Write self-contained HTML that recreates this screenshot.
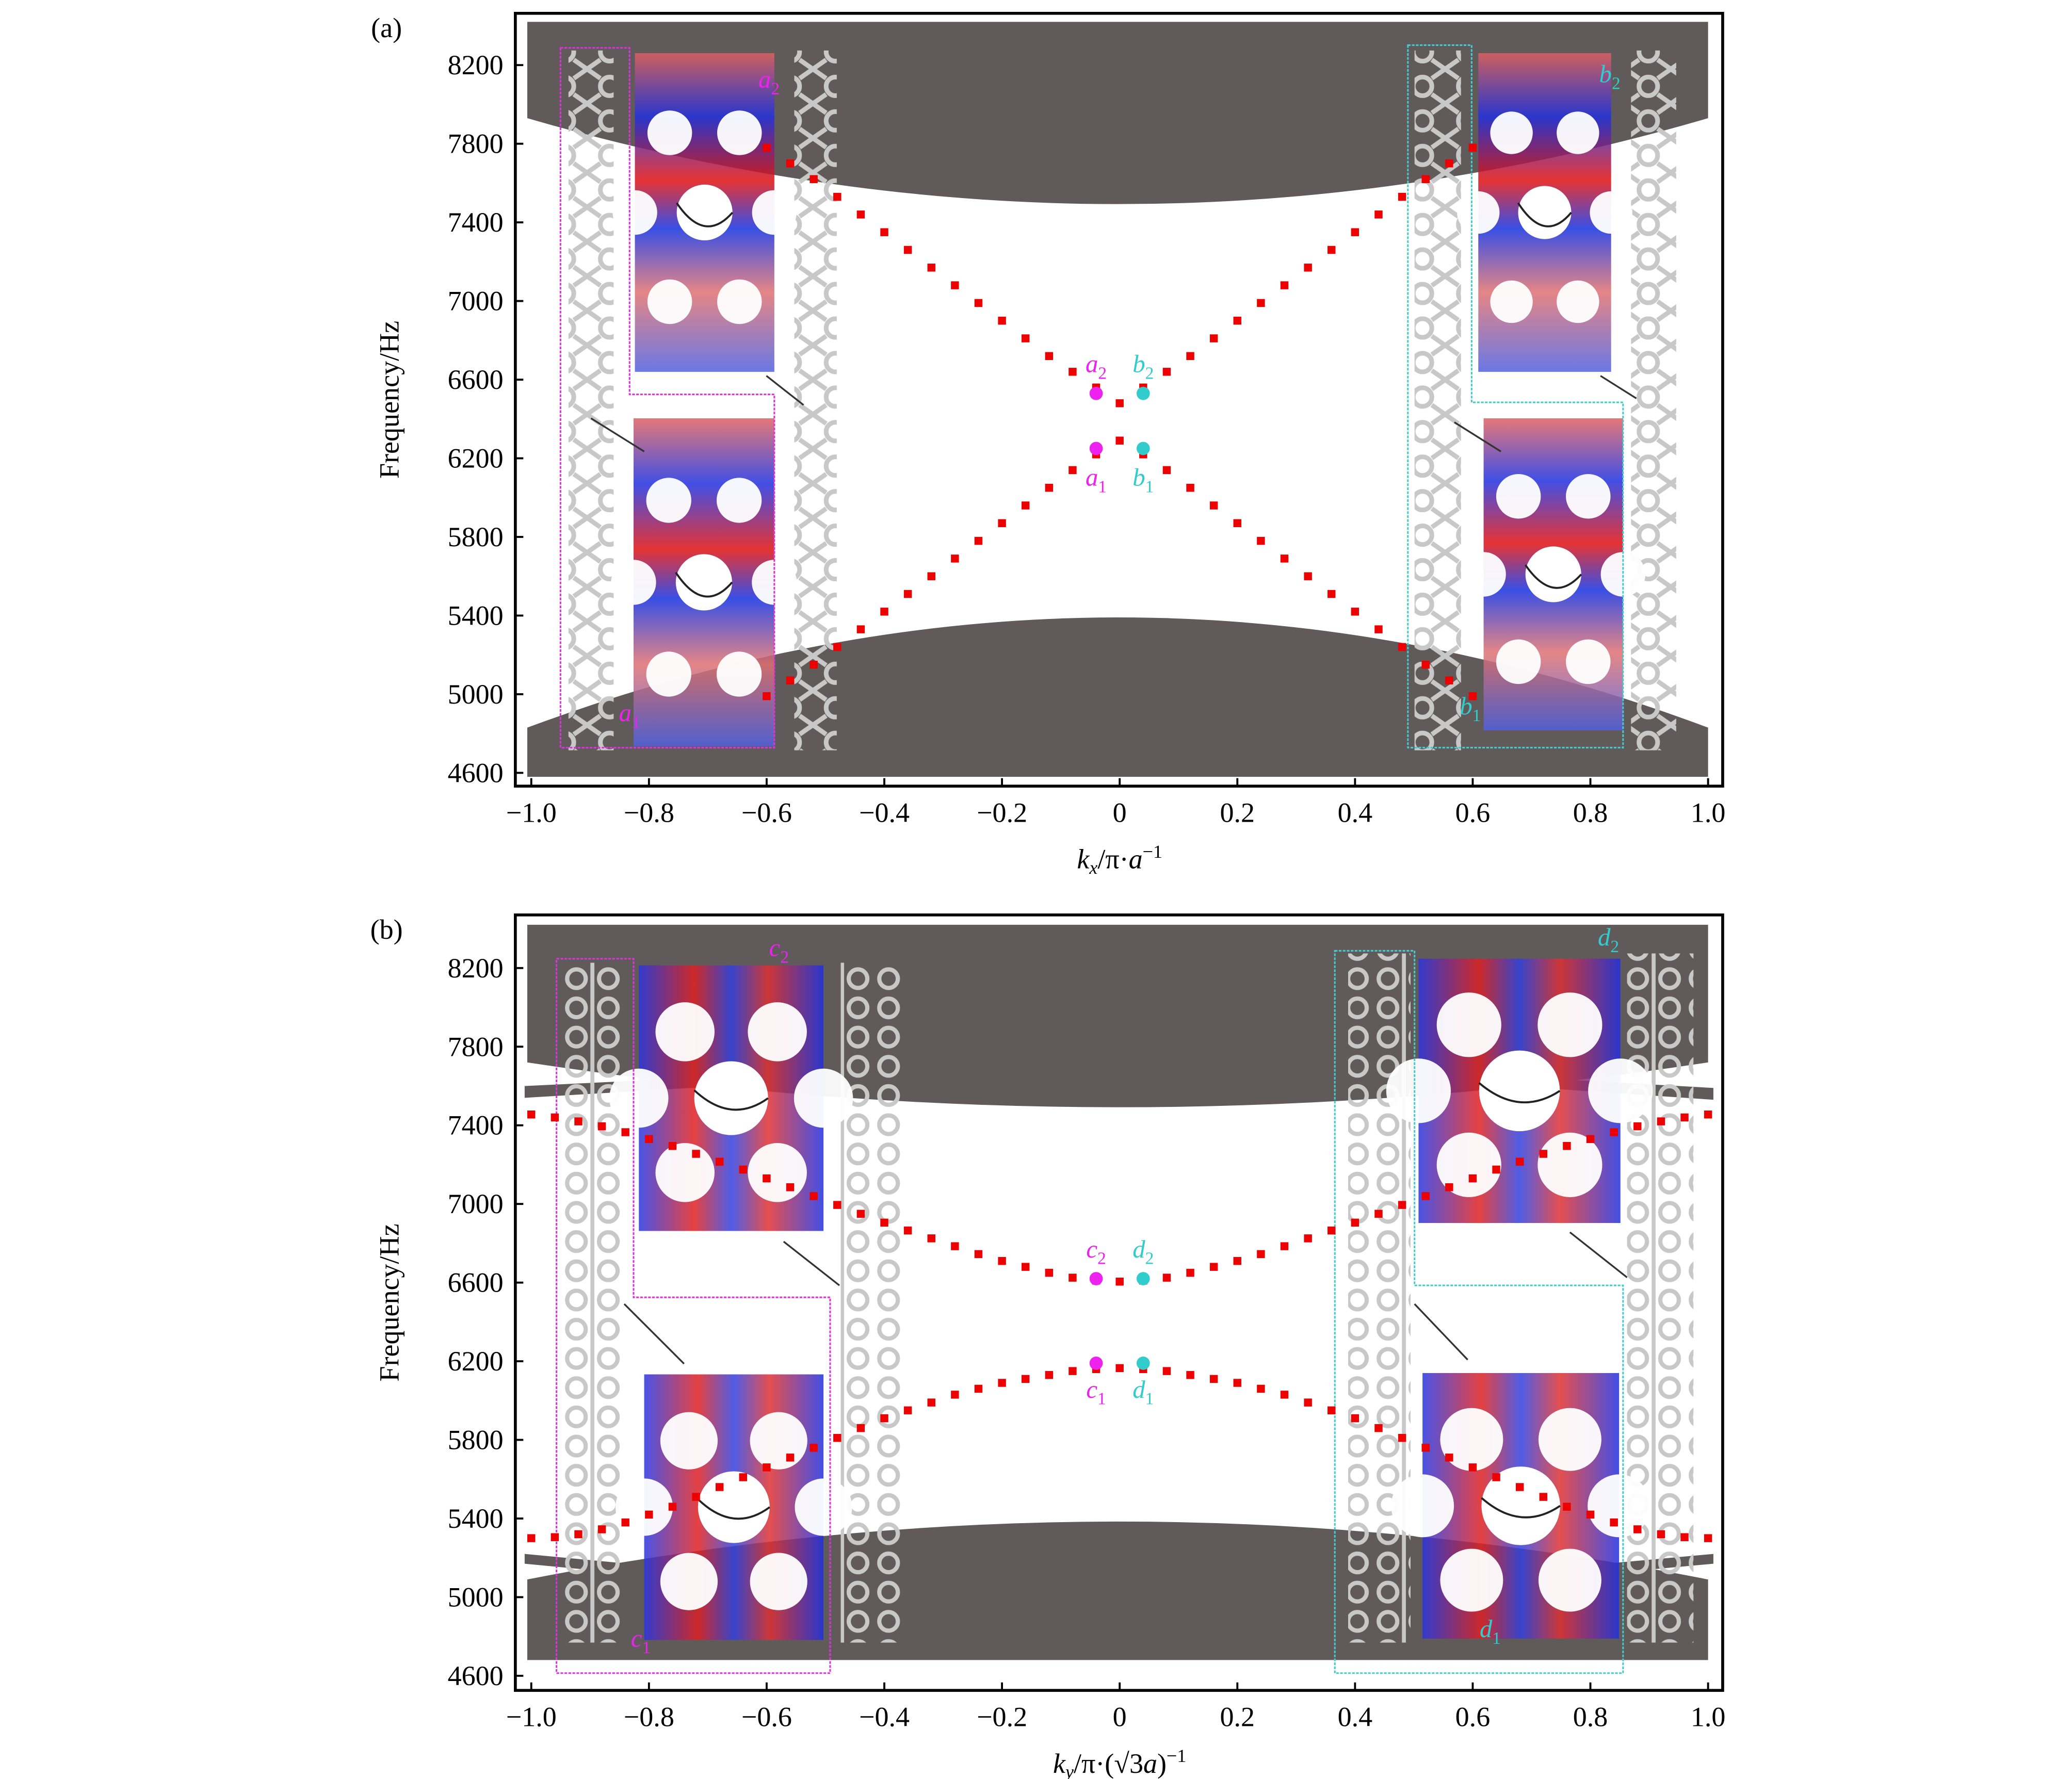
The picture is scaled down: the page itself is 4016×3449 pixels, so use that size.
<!DOCTYPE html>
<html><head><meta charset="utf-8"><style>
html,body{margin:0;padding:0;background:#fff}
svg{display:block}
text{font-family:"Liberation Serif",serif}
</style></head><body>
<svg id="fig" xmlns="http://www.w3.org/2000/svg" width="4016" height="3449" viewBox="0 0 1560 1339.7">
<defs>
<pattern id="latA" width="34" height="26" patternUnits="userSpaceOnUse">
<rect width="34" height="26" fill="none"/>
<circle cx="17" cy="13" r="7" fill="none" stroke="#c8c8c8" stroke-width="3.5"/>
<path d="M0 0 L10 7 M34 0 L24 7 M0 26 L10 19 M34 26 L24 19" stroke="#c8c8c8" stroke-width="3.5"/>
</pattern>
<pattern id="latB" width="47" height="22" patternUnits="userSpaceOnUse">
<circle cx="11" cy="11" r="7" fill="none" stroke="#c8c8c8" stroke-width="3.2"/>
<circle cx="35" cy="11" r="7" fill="none" stroke="#c8c8c8" stroke-width="3.2"/>
<path d="M23 0 V22" stroke="#c8c8c8" stroke-width="3"/>
</pattern>
<linearGradient id="fieldV" x1="0" y1="0" x2="0" y2="1">
<stop offset="0" stop-color="#e06060"/><stop offset="0.2" stop-color="#2030e0"/>
<stop offset="0.4" stop-color="#e01010"/><stop offset="0.55" stop-color="#1530e0"/>
<stop offset="0.75" stop-color="#e07070"/><stop offset="1" stop-color="#5060e0"/>
</linearGradient>
<linearGradient id="fieldH" x1="0" y1="0" x2="1" y2="0">
<stop offset="0" stop-color="#2a35e0"/><stop offset="0.3" stop-color="#e02020"/>
<stop offset="0.5" stop-color="#3040e0"/><stop offset="0.7" stop-color="#e03030"/>
<stop offset="1" stop-color="#2030e0"/>
</linearGradient>
</defs>
<g id="panelA"></g>
<g id="panelB"></g>
</svg>
<script>
// ---- data: panel (a) ----
const kA = [0,0.04,0.08,0.12,0.16,0.2,0.24,0.28,0.32,0.36,0.4,0.44,0.48,0.52,0.56,0.6];
const upperA = [6480,6560,6640,6720,6810,6900,6990,7080,7170,7260,7350,7440,7530,7620,7700,7780];
const lowerA = [6290,6220,6140,6050,5960,5870,5780,5690,5600,5510,5420,5330,5240,5150,5070,4990];
// ---- data: panel (b) ----
const kB = [0,0.04,0.08,0.12,0.16,0.2,0.24,0.28,0.32,0.36,0.4,0.44,0.48,0.52,0.56,0.6,0.64,0.68,0.72,0.76,0.8,0.84,0.88,0.92,0.96,1.0];
const upperB = [6605,6610,6625,6650,6680,6710,6745,6785,6825,6865,6905,6950,6995,7040,7085,7130,7175,7215,7255,7295,7330,7365,7395,7420,7440,7455];
const lowerB = [6165,6160,6150,6130,6110,6090,6060,6030,5990,5950,5910,5860,5810,5760,5710,5660,5610,5560,5510,5460,5420,5380,5345,5320,5305,5300];
const xTicks = [-1.0,-0.8,-0.6,-0.4,-0.2,0,0.2,0.4,0.6,0.8,1.0];
const xTickLabels = ["\u22121.0","\u22120.8","\u22120.6","\u22120.4","\u22120.2","0","0.2","0.4","0.6","0.8","1.0"];
const yTicks = [4600,5000,5400,5800,6200,6600,7000,7400,7800,8200];
const specialA = [{k:-0.04,f:6530,c:"#ee22ee",l:"a",s:"2",dy:-16},{k:0.04,f:6530,c:"#33cccc",l:"b",s:"2",dy:-16},{k:-0.04,f:6250,c:"#ee22ee",l:"a",s:"1",dy:28},{k:0.04,f:6250,c:"#33cccc",l:"b",s:"1",dy:28}];
const specialB = [{k:-0.04,f:6620,c:"#ee22ee",l:"c",s:"2",dy:-16},{k:0.04,f:6620,c:"#33cccc",l:"d",s:"2",dy:-16},{k:-0.04,f:6190,c:"#ee22ee",l:"c",s:"1",dy:26},{k:0.04,f:6190,c:"#33cccc",l:"d",s:"1",dy:26}];

const NS="http://www.w3.org/2000/svg";
function mk(tag,attrs,parent){const e=document.createElementNS(NS,tag);for(const k in attrs)e.setAttribute(k,attrs[k]);parent.appendChild(e);return e;}
const xs = k => 400 + (k+1)*443;
function ysFor(y8200,y4600){return f => y8200 + (8200-f)*(y4600-y8200)/3600;}

function bands(g,ys,top,bot){
  // top band
  let p=mk('path',{d:`M397 ${ys(top[0])} L1286 ${ys(top[0])} L1286 ${ys(top[1])} Q843 ${ys(top[2])-(ys(top[1])-ys(top[2]))*0.9} 397 ${ys(top[1])} Z`,fill:'#615a5a'},g);
  
  p=mk('path',{d:`M397 ${ys(bot[0])} L1286 ${ys(bot[0])} L1286 ${ys(bot[1])} Q843 ${ys(bot[2])+(ys(bot[2])-ys(bot[1]))*0.9} 397 ${ys(bot[1])} Z`,fill:'#615a5a'},g);
  
}
function strip(g,x,y,w,h,pat,name){
  const r=mk('rect',{x:x,y:y,width:w,height:h,fill:`url(#${pat})`},g);
  
}
function fieldMap(g,x,y,w,h,grad,name){
  const gg=mk('g',{},g);
  
  mk('rect',{x:x,y:y,width:w,height:h,fill:`url(#${grad})`,opacity:0.85},gg);
  mk('circle',{cx:x+w/2,cy:y+h*0.5,r:w*0.2,fill:'#fff'},gg);
  [[0.25,0.25],[0.75,0.25],[0.25,0.78],[0.75,0.78],[0,0.5],[1,0.5]].forEach(([a,b])=>mk('circle',{cx:x+w*a,cy:y+h*b,r:w*0.16,fill:'#fff',opacity:0.95},gg));
  mk('path',{d:`M${x+w*0.3} ${y+h*0.47} Q${x+w*0.5} ${y+h*0.6} ${x+w*0.7} ${y+h*0.5}`,fill:'none',stroke:'#222','stroke-width':1.5},gg);
}
function outline(g,pts,color,name){
  const p=mk('polygon',{points:pts,fill:'none',stroke:color,'stroke-width':1.2,'stroke-dasharray':'2 1'},g);
  
}
function axes(g,top,bot,ys,label,xtitle){
  const f=mk('rect',{x:388,y:top,width:909,height:bot-top,fill:'none',stroke:'#000','stroke-width':2.2},g);
  
  xTicks.forEach((t,i)=>{
    const x=xs(t);
    const l=mk('line',{x1:x,y1:bot,x2:x,y2:bot-6,stroke:'#000','stroke-width':1.5},g);
    
    const tx=mk('text',{x:x,y:bot+27,'font-size':21,'text-anchor':'middle'},g);
    tx.textContent=xTickLabels[i];
    
  });
  yTicks.forEach(t=>{
    const y=ys(t);
    const l=mk('line',{x1:388,y1:y,x2:394,y2:y,stroke:'#000','stroke-width':1.5},g);
    
    const tx=mk('text',{x:379,y:y+7,'font-size':21,'text-anchor':'end'},g);
    tx.textContent=String(t);
    
  });
  const yt=mk('text',{x:0,y:0,'font-size':21,'text-anchor':'middle',transform:`translate(300 ${(top+bot)/2}) rotate(-90)`},g);
  yt.textContent='Frequency/Hz';
  
  const pl=mk('text',{x:291,y:top+18,'font-size':21,'text-anchor':'middle'},g);
  pl.textContent=label;
  
  const xt=mk('text',{x:843,y:bot+62,'font-size':21,'text-anchor':'middle','font-style':'italic'},g);
  xt.innerHTML=xtitle;
  
}
function dots(g,ks,vals,ys,name){
  ks.forEach((k,i)=>{[-1,1].forEach(sg=>{
    if(k===0&&sg<0)return;
    const r=mk('rect',{x:xs(sg*k)-3,y:ys(vals[i])-3,width:6,height:6,fill:'#ee0000'},g);
    
  });});
}
function specials(g,list,ys){
  list.forEach(s=>{
    const c=mk('circle',{cx:xs(s.k),cy:ys(s.f),r:5,fill:s.c},g);
    
    const t=mk('text',{x:xs(s.k),y:ys(s.f)+s.dy,'font-size':19,'text-anchor':'middle',fill:s.c,'font-style':'italic'},g);
    t.innerHTML=s.l+'<tspan font-size="13" dy="5" font-style="normal">'+s.s+'</tspan>';
    
  });
}
function tag(g,x,y,l,s,c){
  const t=mk('text',{x:x,y:y,'font-size':19,fill:c,'font-style':'italic'},g);
  t.innerHTML=l+'<tspan font-size="13" dy="5" font-style="normal">'+s+'</tspan>';
  
}
function arrow(g,x1,y1,x2,y2){
  const l=mk('line',{x1,y1,x2,y2,stroke:'#333','stroke-width':1.3},g);
  
}

// Panel A
(function(){
  const g=document.getElementById('panelA');
  const ys=ysFor(49,582);
  bands(g,ys,[8420,7930,7470],[4580,4830,5420]);
  strip(g,428,38,34,527,'latA','lattice-strip-left-1');
  strip(g,598,38,32,527,'latA','lattice-strip-left-2');
  strip(g,1065,38,35,527,'latA','lattice-strip-right-1');
  strip(g,1228,38,34,527,'latA','lattice-strip-right-2');
  fieldMap(g,478,40,105,240,'fieldV','field-map-a2');
  fieldMap(g,477,315,106,247,'fieldV','field-map-a1');
  fieldMap(g,1113,40,100,240,'fieldV','field-map-b2');
  fieldMap(g,1117,315,105,235,'fieldV','field-map-b1');
  outline(g,'422,36 474,36 474,297 583,297 583,563 422,563','#dd33dd','inset-outline-left');
  outline(g,'1060,34 1108,34 1108,303 1222,303 1222,563 1060,563','#44cccc','inset-outline-right');
  arrow(g,445,315,485,340);arrow(g,577,283,605,305);arrow(g,1095,318,1130,340);arrow(g,1205,283,1232,300);
  tag(g,571,66,'a','2','#ee22ee');tag(g,466,543,'a','1','#ee22ee');
  tag(g,1204,62,'b','2','#33cccc');tag(g,1099,538,'b','1','#33cccc');
  dots(g,kA,upperA,ys,'upper-edge-state-point');
  dots(g,kA,lowerA,ys,'lower-edge-state-point');
  specials(g,specialA,ys);
  axes(g,10,592,ys,'(a)','k<tspan font-size="14" dy="4">x</tspan><tspan dy="-4" font-style="normal">/π·</tspan>a<tspan font-size="14" dy="-8" font-style="normal">−1</tspan>');
})();
// Panel B
(function(){
  const g=document.getElementById('panelB');
  const ys=ysFor(729,1262);
  bands(g,ys,[8420,7720,7480],[4680,5090,5400]);
  const t1=mk('path',{d:`M395 ${ys(7600)} L520 ${ys(7640)} L1160 ${ys(7640)} L1290 ${ys(7590)} L1290 ${ys(7530)} L1160 ${ys(7590)} L520 ${ys(7590)} L395 ${ys(7540)} Z`,fill:'#615a5a'},g);
  
  const t2=mk('path',{d:`M395 ${ys(5220)} L520 ${ys(5140)} L1160 ${ys(5140)} L1290 ${ys(5220)} L1290 ${ys(5170)} L1160 ${ys(5090)} L520 ${ys(5090)} L395 ${ys(5170)} Z`,fill:'#615a5a'},g);
  
  strip(g,425,725,47,512,'latB','lattice-strip-left-1');
  strip(g,633,725,46,512,'latB','lattice-strip-left-2');
  strip(g,1015,718,47,519,'latB','lattice-strip-right-1');
  strip(g,1225,718,50,519,'latB','lattice-strip-right-2');
  fieldMap(g,481,727,139,200,'fieldH','field-map-c2');
  fieldMap(g,485,1035,135,200,'fieldH','field-map-c1');
  fieldMap(g,1068,722,152,199,'fieldH','field-map-d2');
  fieldMap(g,1071,1034,148,200,'fieldH','field-map-d1');
  outline(g,'419,722 477,722 477,977 625,977 625,1260 419,1260','#dd33dd','inset-outline-left');
  outline(g,'1005,716 1065,716 1065,968 1222,968 1222,1260 1005,1260','#44cccc','inset-outline-right');
  arrow(g,470,982,515,1027);arrow(g,590,935,632,968);arrow(g,1065,982,1105,1024);arrow(g,1182,928,1225,962);
  tag(g,579,720,'c','2','#ee22ee');tag(g,475,1240,'c','1','#ee22ee');
  tag(g,1203,712,'d','2','#33cccc');tag(g,1114,1233,'d','1','#33cccc');
  dots(g,kB,upperB,ys,'upper-edge-state-point');
  dots(g,kB,lowerB,ys,'lower-edge-state-point');
  specials(g,specialB,ys);
  axes(g,689,1273,ys,'(b)','k<tspan font-size="14" dy="4">y</tspan><tspan dy="-4" font-style="normal">/π·(√3</tspan>a<tspan font-style="normal">)</tspan><tspan font-size="14" dy="-8" font-style="normal">−1</tspan>');
})();
</script>
</body></html>
